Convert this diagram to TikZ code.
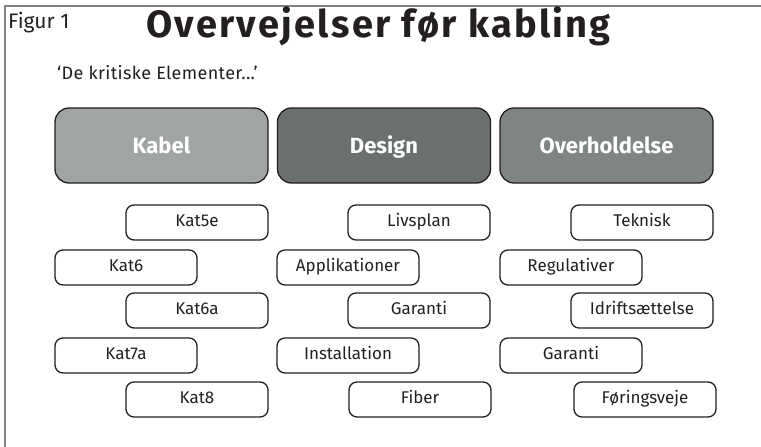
\documentclass[tikz,border=0pt]{standalone}
\usepackage{fontspec}
\setmainfont{Fira Sans}
\definecolor{inkgray}{HTML}{231F20}
\definecolor{kabelgray}{HTML}{A0A5A4}
\definecolor{designgray}{HTML}{6A706F}
\definecolor{overgray}{HTML}{7F8584}
\tikzset{
  headbox/.style={draw=inkgray,line width=1.3pt,rounded corners=14pt,
    minimum width=213pt,minimum height=75pt,text=white,
    text height=16pt,text depth=1pt,
    font=\fontsize{22}{24}\selectfont\bfseries},
  itembox/.style={draw=inkgray,line width=1.3pt,rounded corners=8pt,
    minimum width=142pt,minimum height=35pt,text=inkgray,
    text height=12pt,text depth=4pt,
    font=\fontsize{17}{19}\selectfont},
}
\begin{document}
\begin{tikzpicture}[x=1pt,y=-1pt]
	\useasboundingbox (0,0) rectangle (761,447);
	% frame
	\draw[line width=1.2pt,gray] (5,447) -- (5,6) -- (761,6);
	% titles
	\node[anchor=base west,inner sep=0pt,text=inkgray,font=\fontsize{21}{23}\selectfont] (figno) at (8,28) {Figur 1};
	\node[anchor=base west,inner sep=0pt,text=inkgray,font=\fontsize{38}{40}\selectfont\bfseries\addfontfeatures{LetterSpace=6}] (title) at (146,37) {Overvejelser før kabling};
	\node[anchor=base west,inner sep=0pt,text=inkgray,font=\fontsize{18}{20}\selectfont\addfontfeatures{LetterSpace=2}] (subtitle) at (57,79) {‘De kritiske Elementer...’};
	% column heads
	\node[headbox,fill=kabelgray] (kabel) at (161.5,145.5) {Kabel};
	\node[headbox,fill=designgray] (design) at (384,145.5) {Design};
	\node[headbox,fill=overgray] (overhold) at (606.5,145.5) {Overholdelse};
	% Kabel
	\node[itembox] (kat5e) at (197,222.5) {Kat5e};
	\node[itembox] (kat6) at (126,267.5) {Kat6};
	\node[itembox] (kat6a) at (197,310.5) {Kat6a};
	\node[itembox] (kat7a) at (126,355.5) {Kat7a};
	\node[itembox] (kat8) at (197,399.5) {Kat8};
	% Design
	\node[itembox] (livsplan) at (419,222.5) {Livsplan};
	\node[itembox] (applik) at (348,267.5) {Applikationer};
	\node[itembox] (garantiA) at (419,310.5) {Garanti};
	\node[itembox] (install) at (348,355.5) {Installation};
	\node[itembox] (fiber) at (420,399.5) {Fiber};
	% Overholdelse
	\node[itembox] (teknisk) at (642,222.5) {Teknisk};
	\node[itembox] (regul) at (571,267.5) {Regulativer};
	\node[itembox] (idrift) at (642,310.5) {Idriftsættelse};
	\node[itembox] (garantiB) at (571,355.5) {Garanti};
	\node[itembox] (foering) at (645,399.5) {Føringsveje};
\end{tikzpicture}
\end{document}
